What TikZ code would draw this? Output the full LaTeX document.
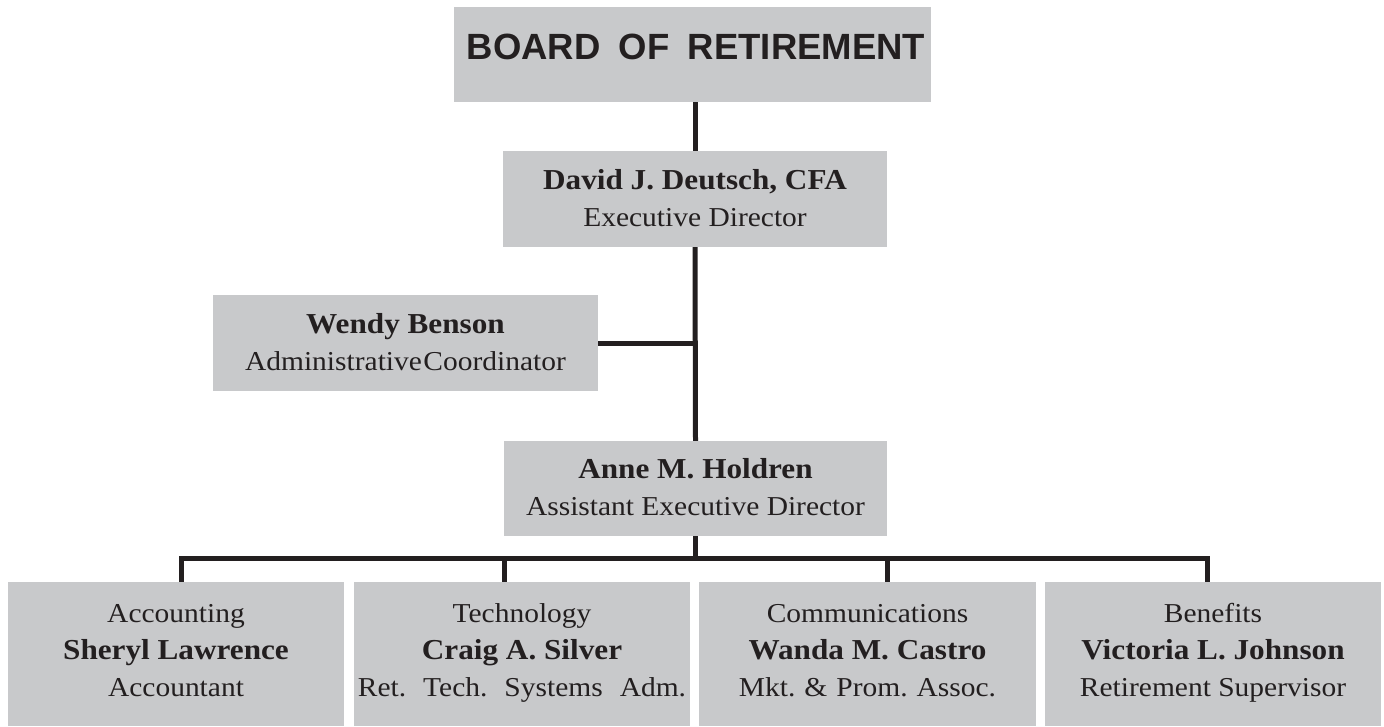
\documentclass[tikz,border=0pt]{standalone}
\usepackage{fontspec}
\setmainfont{Liberation Serif}[FakeStretch=1.08]
\newfontfamily\boardfont{Liberation Sans}
\definecolor{boxgray}{RGB}{200,201,203}
\definecolor{ink}{RGB}{35,31,32}
\newcommand\nm[1]{{\fontsize{28.9}{37}\selectfont\bfseries #1}}
\newcommand\topstrut{\rule{0pt}{24pt}}
\newcommand\botstrut{\rule[-13pt]{0pt}{13pt}}
\newcommand\midstrut{\rule[-7pt]{0pt}{7pt}}
\begin{document}
\begin{tikzpicture}[x=1pt,y=-1pt,
  box/.style={fill=boxgray, draw=none, inner sep=0pt, align=center, text=ink,
    font=\fontsize{27.3}{37}\selectfont},
  topbox/.style={box, minimum width=384pt, minimum height=96pt},
  botbox/.style={box, minimum width=336pt, minimum height=144pt},
  conn/.style={draw=ink, line width=5pt, line cap=butt, line join=miter}]
\useasboundingbox (0,0) rectangle (1384,726);
% boxes
\node[box, minimum width=477pt, minimum height=95pt] (board) at (692.5,54.5) {};
\node[font=\boardfont\bfseries\fontsize{36.5}{40}\selectfont, text=ink, anchor=base]
  (boardtxt) at (696,59) {BOARD\hspace{0.5em}OF\hspace{0.5em}RETIREMENT};
\node[topbox] (david) at (695,199)
  {\topstrut\nm{David J. Deutsch, CFA}\\Executive Director\midstrut};
\node[topbox, minimum width=385pt] (wendy) at (405.5,343)
  {\topstrut\nm{Wendy Benson}\\Administrative\hspace{1.5pt}Coordinator\midstrut};
\node[topbox, minimum width=383pt, minimum height=95pt] (anne) at (695.5,488.5)
  {\topstrut\nm{Anne M. Holdren}\\Assistant Executive Director\midstrut};
\node[botbox] (acc) at (176,654)
  {\topstrut Accounting\\\nm{Sheryl Lawrence}\\Accountant\botstrut};
\node[botbox] (tech) at (522,654)
  {\topstrut Technology\\\nm{Craig A. Silver}\\Ret.\hspace{17pt}Tech.\hspace{17pt}Systems\hspace{17pt}Adm.\botstrut};
\node[botbox, minimum width=337pt] (comm) at (867.5,654)
  {\topstrut Communications\\\nm{Wanda M. Castro}\\Mkt.\hspace{9pt}\&\hspace{9pt}Prom.\hspace{9pt}Assoc.\botstrut};
\node[botbox] (ben) at (1213,654)
  {\topstrut Benefits\\\nm{Victoria L. Johnson}\\Retirement Supervisor\botstrut};
% connectors
\draw[conn] (board.south -| david.north) -- (david.north);
\draw[conn] (david.south) -- (anne.north);
\draw[conn] (wendy.east) -- (wendy.east -| david.south);
\coordinate (busL) at (181,558);
\coordinate (busR) at (1207,558);
\coordinate (dTech) at (504,558);
\coordinate (dComm) at (887,558);
\draw[conn] (anne.south) -- (anne.south |- busL);
\draw[conn] (busL |- acc.north) -- (busL) -- (busR) -- (busR |- ben.north);
\draw[conn] (dTech) -- (dTech |- tech.north);
\draw[conn] (dComm) -- (dComm |- comm.north);
\end{tikzpicture}
\end{document}
